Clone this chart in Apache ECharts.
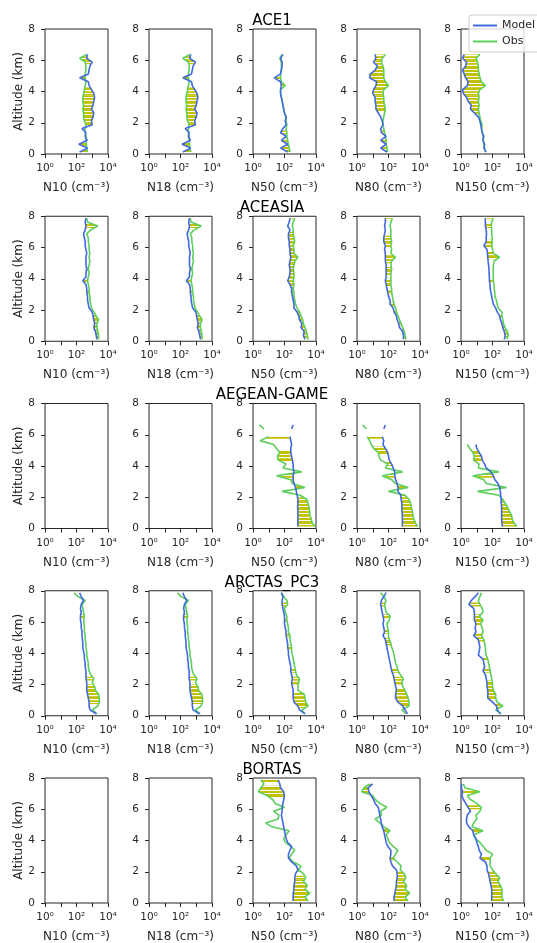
<!DOCTYPE html>
<html><head><meta charset="utf-8">
<script src="https://cdn.jsdelivr.net/npm/echarts@6/dist/echarts.min.js"></script>
<style>html,body{margin:0;padding:0;background:#fff}#c{width:537px;height:943px}</style>
</head><body><div id="c"></div>
<script>
// ---------- data (values are log10 of concentration in cm^-3) ----------
const altitudes = [0.125,0.375,0.625,0.875,1.125,1.375,1.625,1.875,2.125,2.375,2.625,2.875,3.125,3.375,3.625,3.875,
  4.125,4.375,4.625,4.875,5.125,5.375,5.625,5.875,6.125,6.375,6.625,6.875,7.125,7.375,7.625,7.875];
const campaigns = ['ACE1','ACEASIA','AEGEAN-GAME','ARCTAS_PC3','BORTAS'];
const sizeBins = ['N10','N18','N50','N80','N150'];
const xTickExponents = [0,1,2,3,4];
const yTicks = [0,2,4,6,8];

// ACE1
const ace1_N10_model = [2.2,2.7,2.15,2.68,2.55,2.6,2.35,3.0,2.95,3.05,3.1,2.95,3.05,3.1,3.15,3.1,2.95,2.8,2.75,2.2,2.75,2.8,2.85,3.0,2.65,2.7,null,null,null,null,null,null];
const ace1_N10_obs   = [2.7,2.65,2.62,2.6,2.6,2.55,2.55,2.6,2.5,2.45,2.45,2.4,2.45,2.4,2.4,2.45,2.5,2.55,2.6,2.55,2.55,2.6,2.6,2.55,2.2,2.65,null,null,null,null,null,null];
const ace1_N10_sig   = [0,1,2,3,7,8,9,10,11,12,13,14,15,16,19,23,24];
const ace1_N18_model = [2.15,2.65,2.1,2.63,2.5,2.55,2.3,2.95,2.9,3.0,3.05,2.9,3.0,3.05,3.1,3.05,2.9,2.75,2.7,2.15,2.7,2.75,2.8,2.95,2.6,2.65,null,null,null,null,null,null];
const ace1_N18_obs   = [2.65,2.6,2.57,2.55,2.55,2.5,2.5,2.55,2.45,2.4,2.4,2.35,2.4,2.35,2.35,2.4,2.45,2.5,2.55,2.5,2.5,2.55,2.55,2.5,2.15,2.6,null,null,null,null,null,null];
const ace1_N18_sig   = [0,1,2,3,7,8,9,10,11,12,13,14,15,16,19,23,24];
const ace1_N50_model = [2.2,1.75,2.2,1.8,2.1,1.75,1.9,2.1,2.05,2.1,2.0,1.95,1.9,1.85,1.8,1.75,1.75,1.8,1.75,1.35,1.75,1.8,1.85,1.85,1.75,1.9,null,null,null,null,null,null];
const ace1_N50_obs   = [2.35,2.3,2.25,2.2,2.15,2.15,2.1,2.15,2.1,2.1,2.0,1.95,1.9,1.85,1.8,1.75,1.75,2.05,1.8,1.75,1.75,1.8,1.8,1.8,1.7,1.85,null,null,null,null,null,null];
const ace1_N50_sig   = [0,1,2,3,5,17,19];
const ace1_N80_model = [1.9,1.5,1.85,1.5,1.85,1.55,1.5,1.65,1.6,1.5,1.35,1.2,1.2,1.15,1.15,1.0,1.05,1.2,1.25,0.8,0.85,1.15,1.3,1.05,1.2,1.15,null,null,null,null,null,null];
const ace1_N80_obs   = [1.95,1.9,1.85,1.85,1.8,1.75,1.7,1.65,1.65,1.7,1.75,1.8,1.75,1.7,1.7,1.65,1.7,2.0,1.8,1.7,1.7,1.7,1.65,1.55,1.6,1.8,null,null,null,null,null,null];
const ace1_N80_sig   = [0,1,3,5,11,12,13,14,15,16,17,18,19,20,21,22,23,24,25];
const ace1_N150_model = [1.6,1.45,1.5,1.4,1.45,1.35,1.3,1.25,1.2,1.1,0.85,0.6,0.65,0.45,0.35,0.15,0.1,0.4,0.45,0.3,0.2,0.1,0.3,0.35,0.1,0.2,null,null,null,null,null,null];
const ace1_N150_obs   = [1.55,1.5,1.45,1.4,1.4,1.35,1.3,1.35,1.25,1.2,1.15,1.1,1.15,1.1,1.15,1.1,1.2,1.55,1.3,1.2,1.15,1.1,1.1,1.05,0.95,1.2,null,null,null,null,null,null];
const ace1_N150_sig   = [4,7,10,11,12,13,14,15,16,17,18,19,20,21,22,23,24,25];

// ACEASIA
const aceasia_N10_model = [3.3,3.25,3.2,3.1,3.15,3.1,3.05,3.0,2.8,2.75,2.7,2.7,2.65,2.65,2.6,2.4,2.6,2.6,2.65,2.6,2.6,2.6,2.65,2.6,2.55,2.55,2.5,2.45,2.55,2.6,2.55,2.6];
const aceasia_N10_obs   = [3.4,3.4,3.35,3.3,3.3,3.4,3.25,3.1,2.95,2.9,2.85,2.85,2.8,2.8,2.75,2.7,2.75,2.8,2.75,2.8,2.85,2.8,2.85,2.8,2.8,2.75,2.75,2.65,2.9,3.35,2.7,2.65];
const aceasia_N10_sig   = [0,1,2,3,4,5,6,12,15,18,29,31];
const aceasia_N18_model = [3.27,3.22,3.17,3.07,3.12,3.07,3.02,2.97,2.77,2.72,2.67,2.67,2.62,2.62,2.57,2.37,2.57,2.57,2.62,2.57,2.57,2.57,2.62,2.57,2.52,2.52,2.47,2.42,2.52,2.57,2.52,2.57];
const aceasia_N18_obs   = [3.37,3.37,3.32,3.27,3.27,3.37,3.22,3.07,2.92,2.87,2.82,2.82,2.77,2.77,2.72,2.67,2.72,2.77,2.72,2.77,2.82,2.77,2.82,2.77,2.77,2.72,2.72,2.62,2.87,3.32,2.67,2.62];
const aceasia_N18_sig   = [0,1,2,3,4,5,6,12,15,18,29,31];
const aceasia_N50_model = [3.3,3.2,3.25,3.05,3.1,2.95,2.9,2.8,2.6,2.6,2.55,2.5,2.45,2.45,2.35,2.2,2.3,2.35,2.35,2.3,2.35,2.4,2.35,2.35,2.3,2.3,2.25,2.25,2.35,2.2,2.3,2.35];
const aceasia_N50_obs   = [3.5,3.45,3.4,3.3,3.2,3.15,3.05,2.95,2.8,2.7,2.65,2.6,2.6,2.55,2.6,2.55,2.6,2.6,2.55,2.6,2.65,2.85,2.6,2.6,2.55,2.65,2.6,2.55,2.55,2.5,2.55,2.65];
const aceasia_N50_sig   = [0,1,2,3,4,5,6,7,10,11,12,13,14,15,16,17,18,19,20,21,22,23,24,25,26,27,31];
const aceasia_N80_model = [2.95,2.95,2.9,2.7,2.65,2.55,2.5,2.35,2.3,2.1,2.1,2.0,1.95,1.9,1.85,1.8,1.85,1.85,1.85,1.85,1.8,1.8,1.8,1.75,1.8,1.7,1.7,1.75,1.8,1.75,1.8,1.8];
const aceasia_N80_obs   = [3.1,3.05,3.0,2.9,2.8,2.7,2.6,2.5,2.45,2.35,2.3,2.25,2.2,2.2,2.15,2.15,2.15,2.15,2.2,2.15,2.2,2.45,2.15,2.2,2.15,2.2,2.15,2.15,2.15,2.1,2.15,2.25];
const aceasia_N80_sig   = [0,1,2,4,7,9,12,14,15,17,18,20,21,24,25,26,31];
const aceasia_N150_model = [2.75,2.8,2.75,2.65,2.6,2.5,2.45,2.3,2.2,2.05,2.0,1.95,1.9,1.85,1.85,1.8,1.8,1.78,1.78,1.75,1.72,1.7,1.68,1.65,1.45,1.6,1.6,1.62,1.6,1.55,1.55,1.53];
const aceasia_N150_obs   = [2.9,3.0,2.95,2.8,2.7,2.65,2.6,2.6,2.35,2.3,2.25,2.15,2.15,2.1,2.1,2.05,2.05,2.05,2.05,2.05,2.1,2.45,2.05,2.0,1.95,1.98,1.98,1.95,1.95,1.92,1.95,2.05];
const aceasia_N150_sig   = [1,2,3,6,15,21,22,24,25,29,31];

// AEGEAN-GAME
const aegean_N50_model = [2.85,2.85,2.85,2.85,2.85,2.83,2.85,2.85,2.8,2.75,2.7,2.6,2.55,2.55,2.6,2.55,2.55,2.5,2.45,2.4,2.4,2.45,2.4,2.35,null,2.45,2.55,null,null,null,null,null];
const aegean_N50_obs   = [3.95,3.75,3.7,3.6,3.6,3.55,3.5,3.4,3.0,1.85,3.3,2.5,2.4,1.5,3.1,1.9,2.1,1.6,1.55,1.7,1.5,1.3,0.45,1.0,null,0.7,0.4,null,null,null,null,null];
const aegean_N50_sig   = [0,1,2,3,4,5,6,7,10,11,12,13,17,18,19,23];
const aegean_N80_model = [2.88,2.88,2.88,2.88,2.85,2.85,2.85,2.8,2.78,2.6,2.6,2.55,2.45,2.4,2.4,2.3,2.2,2.05,2.0,1.95,1.8,1.65,1.7,1.6,null,1.7,1.8,null,null,null,null,null];
const aegean_N80_obs   = [3.85,3.7,3.6,3.55,3.5,3.45,3.4,3.3,3.05,2.0,3.25,2.45,2.2,1.6,2.9,1.8,1.95,1.5,1.4,1.35,1.05,0.9,0.8,0.65,null,0.6,0.35,null,null,null,null,null];
const aegean_N80_sig   = [0,1,2,3,4,5,6,7,8,10,11,13,16,19,20,23];
const aegean_N150_model = [2.62,2.6,2.58,2.58,2.58,2.58,2.55,2.55,2.52,2.5,2.45,2.35,2.15,2.05,1.9,1.6,1.5,1.35,1.3,1.15,1.0,0.95,null,null,null,null,null,null,null,null,null,null];
const aegean_N150_obs   = [3.55,3.35,3.25,3.2,3.05,2.95,2.8,2.65,2.4,1.05,2.9,1.6,1.45,0.75,2.4,1.1,1.15,0.8,0.85,0.75,0.55,0.4,null,null,null,null,null,null,null,null,null,null];
const aegean_N150_sig   = [0,1,2,3,4,5,6,7,10,13,17,18,19];

// ARCTAS_PC3
const arctas_N10_model = [3.25,2.85,2.8,2.8,2.75,2.7,2.65,2.65,2.65,2.6,2.6,2.6,2.55,2.55,2.5,2.5,2.45,2.4,2.4,2.38,2.35,2.35,2.3,2.3,2.25,2.25,2.3,2.25,2.3,2.45,2.3,2.2];
const arctas_N10_obs   = [3.3,3.0,3.35,3.45,3.45,3.4,3.2,3.15,3.0,3.1,2.9,2.8,2.75,2.75,2.7,2.65,2.65,2.6,2.6,2.55,2.55,2.5,2.5,2.48,2.45,2.5,2.45,2.4,2.35,2.55,2.1,1.85];
const arctas_N10_sig   = [3,4,5,6,7,9,25,29];
const arctas_N18_model = [3.2,2.8,2.75,2.75,2.7,2.65,2.6,2.6,2.6,2.55,2.55,2.55,2.5,2.5,2.45,2.45,2.4,2.35,2.35,2.33,2.3,2.3,2.25,2.25,2.2,2.2,2.25,2.2,2.25,2.4,2.25,2.15];
const arctas_N18_obs   = [3.25,2.95,3.3,3.4,3.4,3.35,3.15,3.1,2.95,3.05,2.85,2.75,2.7,2.7,2.65,2.6,2.6,2.55,2.55,2.5,2.5,2.45,2.45,2.43,2.4,2.45,2.4,2.35,2.3,2.5,2.05,1.8];
const arctas_N18_sig   = [3,4,5,6,7,9,25,29];
const arctas_N50_model = [3.3,2.95,2.85,2.6,2.55,2.55,2.55,2.5,2.45,2.5,2.45,2.4,2.4,2.35,2.3,2.25,2.25,2.2,2.2,2.15,2.1,2.1,2.05,2.0,2.0,2.0,1.95,1.9,1.85,1.85,1.9,1.8];
const arctas_N50_obs   = [3.3,3.1,3.5,3.35,3.3,3.25,2.85,2.85,2.9,2.95,2.75,2.7,2.65,2.6,2.55,2.5,2.45,2.45,2.4,2.35,2.35,2.25,2.25,2.2,2.15,2.15,2.05,2.0,2.2,2.15,1.95,1.8];
const arctas_N50_sig   = [2,3,4,5,8,9,11,17,20,24,28];
const arctas_N80_model = [3.2,3.05,2.9,2.6,2.45,2.45,2.5,2.45,2.4,2.35,2.3,2.2,2.15,2.1,2.05,2.0,1.95,1.9,1.85,1.8,1.65,1.75,1.7,1.65,1.7,1.65,1.6,1.55,1.5,1.55,1.7,1.85];
const arctas_N80_obs   = [3.1,2.85,3.3,3.3,3.25,3.15,3.05,2.9,2.85,2.95,2.75,2.6,2.55,2.45,2.4,2.35,2.3,2.2,2.15,2.05,2.0,2.0,1.95,1.9,2.05,2.1,1.85,1.8,1.75,1.85,1.7,1.5];
const arctas_N80_sig   = [2,3,4,5,6,8,9,11,18,19,21,25,28];
const arctas_N150_model = [2.5,2.3,2.25,2.0,1.7,1.7,1.7,1.65,1.65,1.6,1.55,1.4,1.5,1.45,1.4,1.1,1.15,1.2,1.15,1.1,0.8,0.95,0.9,0.95,0.85,0.85,0.85,0.8,0.5,0.65,0.9,1.1];
const arctas_N150_obs   = [2.55,2.2,2.65,2.3,2.2,2.2,2.05,2.0,2.0,1.95,1.9,1.85,1.8,1.75,1.7,1.6,1.55,1.55,1.5,1.45,1.3,1.4,1.35,1.25,1.4,1.15,1.4,1.35,1.2,1.1,1.2,1.3];
const arctas_N150_sig   = [2,4,5,6,7,8,11,14,19,20,23,24,25,28];

// BORTAS
const bortas_N50_model = [2.55,2.55,2.55,2.6,2.6,2.65,2.65,2.7,2.85,2.75,2.45,2.25,2.25,2.35,2.45,2.2,2.1,2.05,2.0,1.95,1.9,1.85,1.8,1.85,1.85,1.9,1.95,2.0,1.95,1.75,1.7,1.6];
const bortas_N50_obs   = [3.5,3.3,3.6,3.3,3.45,3.2,3.35,3.2,2.9,3.05,2.55,2.3,2.45,2.65,2.4,2.05,1.95,2.1,2.3,1.2,0.8,1.6,1.65,1.3,2.0,1.4,1.25,0.9,0.35,0.5,0.7,0.5];
const bortas_N50_sig   = [0,1,2,3,4,5,6,8,11,27,28,29,31];
const bortas_N80_model = [2.35,2.35,2.4,2.45,2.5,2.5,2.55,2.55,2.5,2.25,2.15,2.1,2.15,2.15,1.95,1.85,1.8,1.75,1.7,1.6,1.55,1.5,1.45,1.4,1.35,1.15,1.05,0.9,0.75,0.7,1.0,null];
const bortas_N80_obs   = [3.25,3.05,3.35,3.05,3.15,2.95,3.1,3.0,2.75,2.8,2.55,2.3,2.45,2.6,2.3,2.05,1.95,1.85,2.1,1.7,1.45,1.15,1.55,1.5,1.9,1.45,1.15,1.0,0.3,0.45,0.8,null];
const bortas_N80_sig   = [0,1,2,3,4,5,6,7,11,18,28,29,30];
const bortas_N150_model = [1.95,1.95,1.95,1.95,1.9,1.85,1.8,1.75,1.65,1.65,1.55,1.2,1.3,1.15,1.1,1.0,0.95,0.8,0.75,0.5,0.35,0.35,0.4,0.6,0.45,0.3,0.15,0.05,0.1,0.02,0.05,null];
const bortas_N150_obs   = [2.7,2.6,2.6,2.6,2.5,2.35,2.45,2.2,2.0,1.85,1.85,1.85,2.0,1.6,1.4,1.2,0.9,0.8,1.4,0.7,0.8,1.0,0.95,1.2,1.3,1.0,0.6,0.4,1.2,0.25,0.15,null];
const bortas_N150_sig   = [0,1,2,3,4,5,6,7,11,18,24,28];

// ---------- assembly ----------
const profiles = {
  'ACE1': {N10:{model:ace1_N10_model,obs:ace1_N10_obs,sig:ace1_N10_sig}, N18:{model:ace1_N18_model,obs:ace1_N18_obs,sig:ace1_N18_sig},
           N50:{model:ace1_N50_model,obs:ace1_N50_obs,sig:ace1_N50_sig}, N80:{model:ace1_N80_model,obs:ace1_N80_obs,sig:ace1_N80_sig},
           N150:{model:ace1_N150_model,obs:ace1_N150_obs,sig:ace1_N150_sig}},
  'ACEASIA': {N10:{model:aceasia_N10_model,obs:aceasia_N10_obs,sig:aceasia_N10_sig}, N18:{model:aceasia_N18_model,obs:aceasia_N18_obs,sig:aceasia_N18_sig},
           N50:{model:aceasia_N50_model,obs:aceasia_N50_obs,sig:aceasia_N50_sig}, N80:{model:aceasia_N80_model,obs:aceasia_N80_obs,sig:aceasia_N80_sig},
           N150:{model:aceasia_N150_model,obs:aceasia_N150_obs,sig:aceasia_N150_sig}},
  'AEGEAN-GAME': {N10:null, N18:null,
           N50:{model:aegean_N50_model,obs:aegean_N50_obs,sig:aegean_N50_sig}, N80:{model:aegean_N80_model,obs:aegean_N80_obs,sig:aegean_N80_sig},
           N150:{model:aegean_N150_model,obs:aegean_N150_obs,sig:aegean_N150_sig}},
  'ARCTAS_PC3': {N10:{model:arctas_N10_model,obs:arctas_N10_obs,sig:arctas_N10_sig}, N18:{model:arctas_N18_model,obs:arctas_N18_obs,sig:arctas_N18_sig},
           N50:{model:arctas_N50_model,obs:arctas_N50_obs,sig:arctas_N50_sig}, N80:{model:arctas_N80_model,obs:arctas_N80_obs,sig:arctas_N80_sig},
           N150:{model:arctas_N150_model,obs:arctas_N150_obs,sig:arctas_N150_sig}},
  'BORTAS': {N10:null, N18:null,
           N50:{model:bortas_N50_model,obs:bortas_N50_obs,sig:bortas_N50_sig}, N80:{model:bortas_N80_model,obs:bortas_N80_obs,sig:bortas_N80_sig},
           N150:{model:bortas_N150_model,obs:bortas_N150_obs,sig:bortas_N150_sig}}
};

const MODEL_COLOR = '#4169e1', OBS_COLOR = '#5ccf5c', HATCH_COLOR = '#c4c000', AXIS_COLOR = '#262626';
const FONT = 'DejaVu Sans';
const SUP = {'0':'\u2070','1':'\u00b9','2':'\u00b2','3':'\u00b3','4':'\u2074'};

// hatch pattern (yellow horizontal stripes on white)
const pc = document.createElement('canvas'); pc.width = 4; pc.height = 7;
const pg = pc.getContext('2d');
pg.fillStyle = '#ffffff'; pg.fillRect(0,0,4,7);
pg.fillStyle = HATCH_COLOR; pg.fillRect(0,0,4,2); pg.fillRect(0,3,4,3);
const hatchPattern = {image: pc, repeat: 'repeat'};

const toConc = v => Math.pow(10, v);
function lineData(arr){ return altitudes.map((a,i) => arr[i]==null ? ['-', a] : [toConc(arr[i]), a]); }
function hatchData(p){
  const m = p.model, o = p.obs, n = altitudes.length, out = [];
  const ok = j => j>=0 && j<n && m[j]!=null && o[j]!=null;
  p.sig.forEach(i => {
    if (!ok(i)) return;
    const pv = ok(i-1), nx = ok(i+1);
    const mLo = pv ? (m[i-1]+m[i])/2 : m[i], oLo = pv ? (o[i-1]+o[i])/2 : o[i], aLo = pv ? (altitudes[i-1]+altitudes[i])/2 : altitudes[i];
    const mHi = nx ? (m[i+1]+m[i])/2 : m[i], oHi = nx ? (o[i+1]+o[i])/2 : o[i], aHi = nx ? (altitudes[i+1]+altitudes[i])/2 : altitudes[i];
    out.push([toConc(mLo), toConc(m[i]), toConc(mHi), toConc(oLo), toConc(o[i]), toConc(oHi), aLo, altitudes[i], aHi]);
  });
  return out;
}
function renderHatch(params, api){
  const pt = (xi, yi) => api.coord([api.value(xi), api.value(yi)]);
  const pts = [pt(0,6), pt(1,7), pt(2,8), pt(5,8), pt(4,7), pt(3,6)];
  return {type:'polygon', shape:{points: pts}, style:{fill: hatchPattern, stroke: null}};
}

const grids = [], xAxes = [], yAxes = [], series = [], graphics = [];
const colLeft = c => 45 + 104*c;
const rowTop = r => 29 + 187.25*r;

campaigns.forEach((camp, r) => {
  graphics.push({type:'text', x: 272, y: rowTop(r) - 8, z: 100,
    style:{text: camp, fontSize: 15, fontFamily: FONT, fill: '#000', align: 'center', verticalAlign: 'middle'}});
  sizeBins.forEach((bin, c) => {
    const idx = grids.length;
    grids.push({left: colLeft(c), top: rowTop(r), width: 63, height: 125, show: true,
      borderColor: AXIS_COLOR, borderWidth: 1, backgroundColor: 'transparent', containLabel: false, outerBoundsMode: 'none'});
    xAxes.push({gridIndex: idx, type: 'log', logBase: 10, min: 1, max: 10000, splitNumber: 4,
      name: bin + ' (cm\u207b\u00b3)', nameLocation: 'middle', nameGap: 28,
      nameTextStyle: {fontSize: 12, fontFamily: FONT, color: AXIS_COLOR},
      axisLine: {show: false}, splitLine: {show: false},
      axisTick: {show: true, length: 4, lineStyle: {color: AXIS_COLOR}},
      axisLabel: {fontSize: 10.5, fontFamily: FONT, color: AXIS_COLOR, margin: 9,
        formatter: v => { const e = Math.round(Math.log10(v)); return (xTickExponents.indexOf(e) >= 0 && e % 2 === 0) ? '10' + SUP[String(e)] : ''; }}});
    yAxes.push({gridIndex: idx, type: 'value', min: yTicks[0], max: yTicks[yTicks.length-1], interval: 2,
      name: c === 0 ? 'Altitude (km)' : '', nameLocation: 'middle', nameGap: 20,
      nameTextStyle: {fontSize: 12, fontFamily: FONT, color: AXIS_COLOR},
      axisLine: {show: false}, splitLine: {show: false},
      axisTick: {show: true, length: 4, lineStyle: {color: AXIS_COLOR}},
      axisLabel: {fontSize: 10.5, fontFamily: FONT, color: AXIS_COLOR, margin: 10}});
    const p = profiles[camp][bin];
    if (!p) return;
    series.push({type: 'custom', xAxisIndex: idx, yAxisIndex: idx, renderItem: renderHatch, data: hatchData(p),
      encode: {x: 1, y: 7}, z: 1, silent: true});
    series.push({type: 'line', name: 'Model', xAxisIndex: idx, yAxisIndex: idx, data: lineData(p.model),
      color: MODEL_COLOR, symbol: 'none', connectNulls: false, z: 3, lineStyle: {color: MODEL_COLOR, width: 1.6}});
    series.push({type: 'line', name: 'Obs', xAxisIndex: idx, yAxisIndex: idx, data: lineData(p.obs),
      color: OBS_COLOR, symbol: 'none', connectNulls: false, z: 2, lineStyle: {color: OBS_COLOR, width: 1.6}});
  });
});

const chart = echarts.init(document.getElementById('c'), null, {renderer: 'canvas'});
chart.setOption({
  animation: false,
  backgroundColor: '#ffffff',
  textStyle: {fontFamily: FONT},
  grid: grids, xAxis: xAxes, yAxis: yAxes, series: series,
  graphic: graphics,
  legend: {data: [{name: 'Model', icon: 'rect'}, {name: 'Obs', icon: 'rect'}], orient: 'vertical',
    left: 469, top: 15, itemWidth: 24, itemHeight: 2, itemGap: 5, padding: [5, 40, 5, 4],
    borderColor: '#cccccc', borderWidth: 1, borderRadius: 3, backgroundColor: 'rgba(255,255,255,0.8)',
    textStyle: {fontSize: 11, fontFamily: FONT, color: AXIS_COLOR}}
});
</script>
</body></html>
